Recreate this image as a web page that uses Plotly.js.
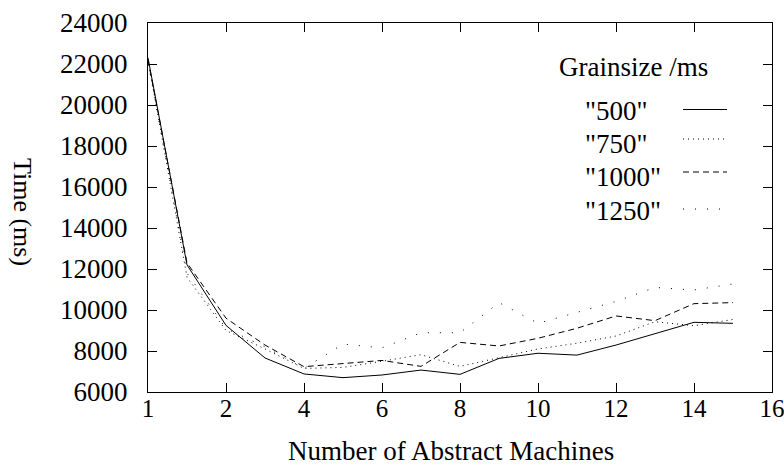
<!DOCTYPE html>
<html>
<head>
<meta charset="utf-8">
<script src="https://cdn.plot.ly/plotly-3.0.1.min.js"></script>
<style>html,body{margin:0;padding:0;background:#fff;}#chart{width:784px;height:468px;}</style>
</head>
<body>
<div id="chart"></div>
<script>
// Data (x positions as plotted; first tick is labelled "1")
var xPos = [0, 1, 2, 3, 4, 5, 6, 7, 8, 9, 10, 11, 12, 13, 14, 15];
var t500  = [22300, 12200, 9250, 7660, 6880, 6700, 6830, 7070, 6860, 7640, 7890, 7800, 8290, 8860, 9400, 9350];
var t750  = [22200, 11600, 9000, 8100, 7150, 7200, 7500, 7820, 7250, 7690, 8100, 8380, 8730, 9430, 9230, 9540];
var t1000 = [22200, 12300, 9600, 8290, 7235, 7370, 7540, 7250, 8420, 8245, 8620, 9110, 9710, 9480, 10310, 10360];
var t1250 = [22100, 11800, 9100, 8200, 7150, 8340, 8150, 8890, 8890, 10360, 9350, 9870, 10420, 11100, 10975, 11270];
var seriesNames = ['"500"', '"750"', '"1000"', '"1250"'];
var xTickVals = [0, 2, 4, 6, 8, 10, 12, 14, 16];
var xTickText = ["1", "2", "4", "6", "8", "10", "12", "14", "16"];
var yTickVals = [6000, 8000, 10000, 12000, 14000, 16000, 18000, 20000, 22000, 24000];
var yTickText = ["6000", "8000", "10000", "12000", "14000", "16000", "18000", "20000", "22000", "24000"];

var FONT = "Times New Roman, Liberation Serif, Tinos, serif";
var W = 784, H = 468, L = 148, R = 12, T = 23, B = 76;
var pw = W - L - R, ph = H - T - B;
function px(x) { return (x - L) / pw; }
function py(y) { return (H - B - y) / ph; }

var dashes = ["solid", "1px,4px", "6px,4px", "1px,11px"];
var allY = [t500, t750, t1000, t1250];
var traces = allY.map(function (ys, i) {
  return {
    x: xPos, y: ys, type: "scatter", mode: "lines", name: seriesNames[i],
    line: { color: "#000", width: 1, dash: dashes[i] }, showlegend: false
  };
});

var annotations = [
  { text: "Number of Abstract Machines", xref: "paper", yref: "paper", x: px(451), y: py(451),
    xanchor: "center", yanchor: "middle", showarrow: false, font: { family: FONT, size: 27, color: "#000" } },
  { text: "Time (ms)", xref: "paper", yref: "paper", x: px(23), y: py(212), textangle: 90,
    xanchor: "center", yanchor: "middle", showarrow: false, font: { family: FONT, size: 26, color: "#000" } },
  { text: "Grainsize /ms", xref: "paper", yref: "paper", x: px(557), y: py(67),
    xanchor: "left", yanchor: "middle", showarrow: false, font: { family: FONT, size: 27, color: "#000" } }
];
var legTextY = [111, 144, 177, 211];
var legLineY = [109.5, 139, 172, 209];
var shapes = [];
for (var i = 0; i < 4; i++) {
  annotations.push({ text: seriesNames[i], xref: "paper", yref: "paper", x: px(583), y: py(legTextY[i]),
    xanchor: "left", yanchor: "middle", showarrow: false, font: { family: FONT, size: 27, color: "#000" } });
  shapes.push({ type: "line", xref: "paper", yref: "paper", x0: px(683), x1: px(727),
    y0: py(legLineY[i]), y1: py(legLineY[i]), line: { color: "#000", width: 1, dash: dashes[i] } });
}

var layout = {
  width: W, height: H,
  margin: { l: L, r: R, t: T, b: B, pad: 0 },
  paper_bgcolor: "#fff", plot_bgcolor: "#fff",
  showlegend: false,
  font: { family: FONT, color: "#000" },
  xaxis: {
    range: [0, 16], tickmode: "array", tickvals: xTickVals, ticktext: xTickText,
    ticks: "inside", ticklen: 9, tickwidth: 1, tickcolor: "#000",
    showline: true, linecolor: "#000", linewidth: 1, mirror: "ticks",
    showgrid: false, zeroline: false, tickfont: { family: FONT, size: 25, color: "#000" },
    ticklabelstandoff: -6, ticklabeloverflow: "allow"
  },
  yaxis: {
    range: [6000, 24000], tickmode: "array", tickvals: yTickVals, ticktext: yTickText,
    ticks: "inside", ticklen: 9, tickwidth: 1, tickcolor: "#000",
    showline: true, linecolor: "#000", linewidth: 1, mirror: "ticks",
    showgrid: false, zeroline: false, tickfont: { family: FONT, size: 27, color: "#000" },
    ticklabelstandoff: 14, ticklabeloverflow: "allow"
  },
  annotations: annotations,
  shapes: shapes
};
Plotly.newPlot("chart", traces, layout, { displayModeBar: false, staticPlot: true });
</script>
</body>
</html>
